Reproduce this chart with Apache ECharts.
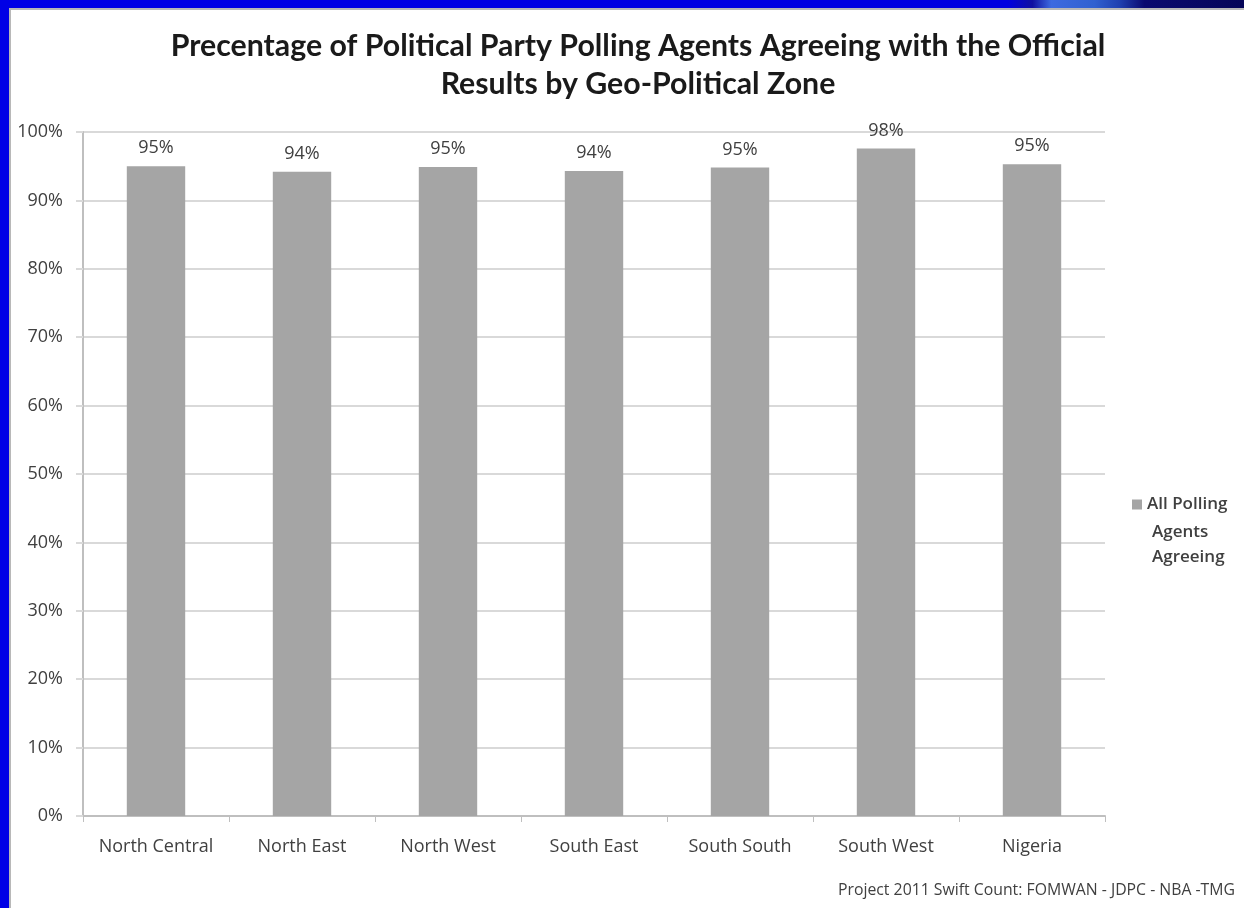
<!DOCTYPE html>
<html><head><meta charset="utf-8">
<script src="https://cdn.jsdelivr.net/npm/echarts@6/dist/echarts.min.js"></script>
<style>
html,body{margin:0;padding:0;background:#fff;}
#wrap{position:relative;width:1244px;height:908px;overflow:hidden;background:#fff;}
#chart{position:absolute;left:0;top:0;width:1244px;height:908px;}
#topbar{position:absolute;left:0;top:0;width:1244px;height:8px;background:linear-gradient(90deg,#0000e6 0%,#0000e0 81%,#1010a0 83%,#3d6ae0 84.5%,#3060d0 88%,#2040b0 90%,#0a0a70 92%,#050558 100%);}
#leftbar{position:absolute;left:0;top:0;width:9px;height:908px;background:#0000e6;}
#edge{position:absolute;left:9px;top:8px;width:1235px;height:900px;border-left:2px solid #b8b8b8;border-top:2px solid #b8b8b8;box-sizing:border-box;}
</style></head>
<body><div id="wrap"><div id="chart"></div><div id="topbar"></div><div id="leftbar"></div><div id="edge"></div></div>
<script>
const categories = ['North Central','North East','North West','South East','South South','South West','Nigeria'];
const agreeing = [95.0, 94.2, 94.9, 94.3, 94.8, 97.6, 95.3];
const yTicks = [0,10,20,30,40,50,60,70,80,90,100];
const seriesName = 'All Polling Agents Agreeing';
const legendLines = ['All Polling','Agents','Agreeing'];
const titleText = 'Precentage of Political Party Polling Agents Agreeing with the Official\nResults by Geo-Political Zone';
const footer = 'Project 2011 Swift Count: FOMWAN - JDPC - NBA -TMG';

const txt = '#404040';
const chart = echarts.init(document.getElementById('chart'), null, {renderer:'canvas'});
chart.setOption({
  backgroundColor:'#fff',
  animation:false,
  title:[{
    text:titleText, left:633, top:22, textAlign:'center',
    textStyle:{fontFamily:'Lato', fontWeight:'bold', fontSize:30.3, color:'#1a1a1a', lineHeight:38}
  },{
    text:footer, right:4, top:877,
    textStyle:{fontFamily:'Open Sans', fontWeight:'normal', fontSize:15.8, color:txt}
  },{
    text:legendLines.slice(1).join('\n'), left:1147, top:515,
    textStyle:{fontFamily:'Open Sans', fontWeight:600, fontSize:17, color:txt, lineHeight:25}
  }],
  legend:{
    show:true, orient:'vertical', left:1127, top:491, itemWidth:10, itemHeight:10, icon:'rect',
    formatter:()=> legendLines[0],
    textStyle:{fontFamily:'Open Sans', fontWeight:600, fontSize:17, color:txt},
    data:[seriesName]
  },
  grid:{left:83, right:139, top:132, bottom:92, containLabel:false},
  xAxis:{
    type:'category', data:categories,
    axisLine:{lineStyle:{color:'#bfbfbf', width:2}},
    axisTick:{show:true, alignWithLabel:false, length:6, lineStyle:{color:'#bfbfbf'}},
    axisLabel:{fontFamily:'Open Sans', fontSize:18, color:txt, margin:22, interval:0}
  },
  yAxis:{
    type:'value', min:0, max:100, interval:10,
    axisLine:{show:true, lineStyle:{color:'#bfbfbf', width:2}},
    axisTick:{show:true, length:7, lineStyle:{color:'#d9d9d9', width:2}},
    splitLine:{lineStyle:{color:'#d9d9d9', width:2}},
    axisLabel:{fontFamily:'Open Sans', fontSize:18, color:txt, margin:20, formatter:v=>v+'%'}
  },
  series:[{
    name:seriesName, type:'bar', data:agreeing, barWidth:'40%',
    itemStyle:{color:'#a5a5a5'},
    label:{show:true, position:'top', distance:9, fontFamily:'Open Sans', fontSize:18, color:txt,
      formatter:p=>Math.round(p.value)+'%'}
  }]
});
</script></body></html>
